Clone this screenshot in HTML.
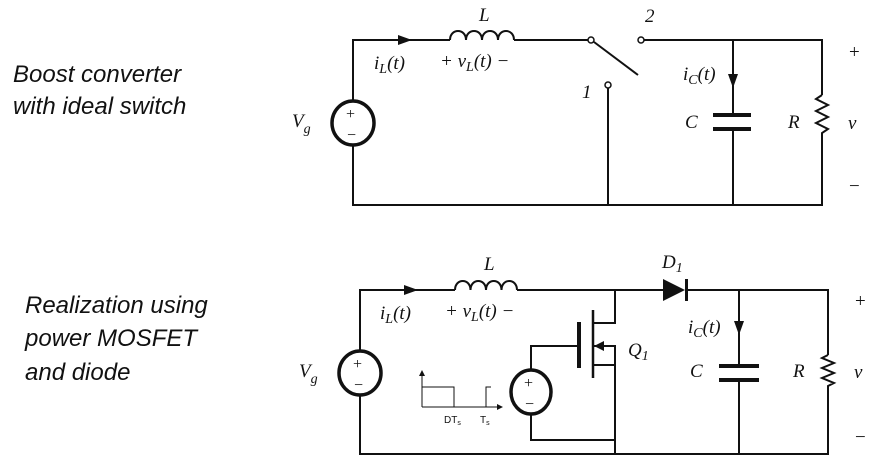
<!DOCTYPE html>
<html><head><meta charset="utf-8"><style>
html,body{margin:0;padding:0;background:#fff;}
svg{display:block;}
.t{font-family:"Liberation Sans",sans-serif;font-style:italic;font-size:24px;fill:#111;}
.s{font-family:"Liberation Serif",serif;font-style:italic;font-size:19px;fill:#111;}
.p{font-family:"Liberation Serif",serif;font-size:19px;fill:#111;}
.w{stroke:#111;stroke-width:2;fill:none;}
</style></head><body>
<svg width="888" height="465" viewBox="0 0 888 465" xmlns="http://www.w3.org/2000/svg">
<text class="t" x="13" y="82">Boost converter</text>
<text class="t" x="13" y="114">with ideal switch</text>
<text class="t" x="25" y="313">Realization using</text>
<text class="t" x="25" y="346">power MOSFET</text>
<text class="t" x="25" y="380">and diode</text>

<!-- TOP CIRCUIT -->
<g class="w">
<path d="M353 101 V40 H450"/>
<path d="M353 145 V205 H822 V140"/>
<path d="M450 40 c0-12 16-12 16 0 c0-12 16-12 16 0 c0-12 16-12 16 0 c0-12 16-12 16 0"/>
<path d="M514 40 H588"/>
<path d="M594 42 L638 75"/>
<path d="M643 40 H822 V95"/>
<path d="M608 88 V205"/>
<path d="M733 40 V114"/>
<path d="M733 130 V205"/>
<path d="M822 95 l-6 4 l12 6 l-12 6 l12 6 l-12 6 l12 6 l-6 4 V140" />
</g>
<ellipse cx="353" cy="123" rx="21" ry="22" fill="none" stroke="#111" stroke-width="3.5"/>
<text class="p" x="346" y="119" style="font-size:16px">+</text>
<text class="p" x="347" y="140" style="font-size:16px">−</text>
<circle cx="591" cy="40" r="3" fill="#fff" stroke="#111" stroke-width="1.5"/>
<circle cx="641" cy="40" r="3" fill="#fff" stroke="#111" stroke-width="1.5"/>
<circle cx="608" cy="85" r="3" fill="#fff" stroke="#111" stroke-width="1.5"/>
<rect x="713" y="113" width="38" height="4" fill="#111"/>
<rect x="713" y="127" width="38" height="4" fill="#111"/>
<polygon points="398,35 412,40 398,45" fill="#111"/>
<polygon points="728,74 738,74 733,88" fill="#111"/>
<text class="s" x="479" y="21">L</text>
<text class="s" x="374" y="69">i<tspan dy="4" font-size="14">L</tspan><tspan dy="-4">(t)</tspan></text>
<text class="s" x="440" y="67">+ v<tspan dy="4" font-size="14">L</tspan><tspan dy="-4">(t) −</tspan></text>
<text class="s" x="645" y="22">2</text>
<text class="s" x="582" y="98">1</text>
<text class="s" x="683" y="80">i<tspan dy="4" font-size="14">C</tspan><tspan dy="-4">(t)</tspan></text>
<text class="s" x="685" y="128">C</text>
<text class="s" x="788" y="128">R</text>
<text class="s" x="848" y="129">v</text>
<text class="p" x="849" y="58">+</text>
<text class="p" x="849" y="192">−</text>
<text class="s" x="292" y="127">V<tspan dy="6" font-size="14">g</tspan></text>

<!-- BOTTOM CIRCUIT -->
<g class="w">
<path d="M360 351 V290 H455"/>
<path d="M360 395 V454 H828 V387"/>
<path d="M455 290 c0-12 15.5-12 15.5 0 c0-12 15.5-12 15.5 0 c0-12 15.5-12 15.5 0 c0-12 15.5-12 15.5 0"/>
<path d="M517 290 H663"/>
<path d="M686 290 H828 V355"/>
<path d="M828 355 l-6 3 l12 5 l-12 5 l12 5 l-12 5 l12 5 l-6 3 V387"/>
<path d="M615 290 V323 H593"/>
<path d="M593 346 H615 V454"/>
<path d="M593 365 H615"/>
<path d="M579 346 H531 V370"/>
<path d="M531 414 V440 H615"/>
<path d="M739 290 V365"/>
<path d="M739 381 V454"/>
</g>
<path d="M593 310 V378" stroke="#111" stroke-width="2.5"/>
<path d="M579 322 V368" stroke="#111" stroke-width="4"/>
<polygon points="594,346 604,341 604,351" fill="#111"/>
<ellipse cx="360" cy="373" rx="21" ry="22" fill="none" stroke="#111" stroke-width="3.5"/>
<text class="p" x="353" y="369" style="font-size:16px">+</text>
<text class="p" x="354" y="390" style="font-size:16px">−</text>
<ellipse cx="531" cy="392" rx="20" ry="22" fill="none" stroke="#111" stroke-width="3.5"/>
<text class="p" x="524" y="388" style="font-size:16px">+</text>
<text class="p" x="525" y="409" style="font-size:16px">−</text>
<polygon points="663,279 685,290 663,301" fill="#111"/>
<rect x="685" y="279" width="3" height="22" fill="#111"/>
<rect x="719" y="364" width="40" height="4" fill="#111"/>
<rect x="719" y="378" width="40" height="4" fill="#111"/>
<polygon points="404,285 418,290 404,295" fill="#111"/>
<polygon points="734,321 744,321 739,335" fill="#111"/>
<!-- waveform -->
<g stroke="#111" stroke-width="1" fill="none">
<path d="M422 407 V374"/>
<path d="M422 387 H454 V407"/>
<path d="M422 407 H499"/>
<path d="M486 407 V387 H491"/>
</g>
<polygon points="419,376 422,370 425,376" fill="#111"/>
<polygon points="497,404 503,407 497,410" fill="#111"/>
<text x="444" y="423" font-family="Liberation Sans,sans-serif" font-size="10" fill="#111">DT<tspan font-size="7" dy="2">s</tspan></text>
<text x="480" y="423" font-family="Liberation Sans,sans-serif" font-size="10" fill="#111">T<tspan font-size="7" dy="2">s</tspan></text>
<text class="s" x="484" y="270">L</text>
<text class="s" x="380" y="319">i<tspan dy="4" font-size="14">L</tspan><tspan dy="-4">(t)</tspan></text>
<text class="s" x="445" y="317">+ v<tspan dy="4" font-size="14">L</tspan><tspan dy="-4">(t) −</tspan></text>
<text class="s" x="662" y="268">D<tspan dy="4" font-size="14">1</tspan></text>
<text class="s" x="628" y="356">Q<tspan dy="4" font-size="14">1</tspan></text>
<text class="s" x="688" y="333">i<tspan dy="4" font-size="14">C</tspan><tspan dy="-4">(t)</tspan></text>
<text class="s" x="690" y="377">C</text>
<text class="s" x="793" y="377">R</text>
<text class="s" x="854" y="378">v</text>
<text class="p" x="855" y="307">+</text>
<text class="p" x="855" y="443">−</text>
<text class="s" x="299" y="377">V<tspan dy="6" font-size="14">g</tspan></text>
</svg>
</body></html>
